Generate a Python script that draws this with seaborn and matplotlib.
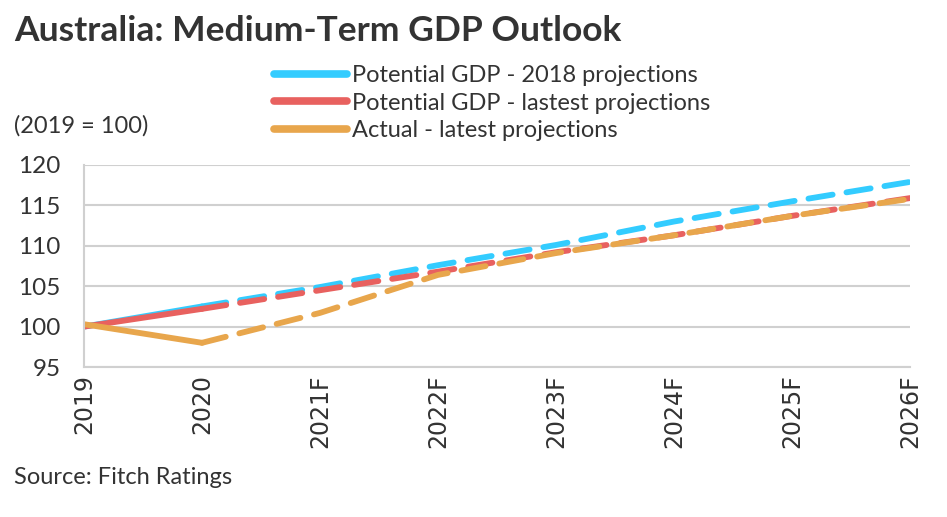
import numpy as np
import pandas as pd
import matplotlib
matplotlib.use("Agg")
import matplotlib.pyplot as plt
from matplotlib.lines import Line2D
import seaborn as sns

# Data (2019 = 100)
years = ["2019", "2020", "2021F", "2022F", "2023F", "2024F", "2025F", "2026F"]
potential_2018 = [100.0, 102.5, 104.9, 107.6, 110.1, 113.0, 115.5, 117.9]
potential_latest = [100.0, 102.2, 104.5, 106.8, 109.2, 111.3, 113.7, 115.9]
actual_latest = [100.3, 98.0, 101.7, 106.4, 109.1, 111.3, 113.7, 115.8]

labels = ["Potential GDP - 2018 projections",
          "Potential GDP - lastest projections",
          "Actual - latest projections"]
colors = ["#33CCFF", "#E8615F", "#E8A64C"]
series = [potential_2018, potential_latest, actual_latest]

sns.set_style("white")
plt.rcParams["font.family"] = ["Lato", "DejaVu Sans"]

fig = plt.figure(figsize=(9.47, 5.17), dpi=100)
ax = fig.add_axes([0.0887, 0.29, 0.8723, 0.391])

pos = np.arange(len(years))
for vals, col in zip(series, colors):
    df = pd.DataFrame({"x": pos, "y": vals})
    # actual history: solid, forecasts: dashed
    sns.lineplot(data=df.iloc[:2], x="x", y="y", ax=ax, color=col,
                 lw=4.2, solid_capstyle="round")
    sns.lineplot(data=df.iloc[1:], x="x", y="y", ax=ax, color=col,
                 lw=4.2, dashes=False, linestyle=(0, (4.2, 2.4)),
                 dash_capstyle="round")

ax.set_xlim(0, 7)
ax.set_ylim(95, 120)
ax.set_yticks(range(95, 121, 5))
ax.set_xticks(pos)
ax.set_xticklabels(years, rotation=90, family="DejaVu Sans", fontsize=17,
                   color="#333333")
ax.tick_params(axis="y", labelsize=17.5, labelcolor="#333333", length=0, pad=17)
ax.tick_params(axis="x", length=0, pad=5)
ax.set_xlabel("")
ax.set_ylabel("")
ax.grid(axis="y", color="#D0D0D0", lw=1.5)
for s in ["top", "right"]:
    ax.spines[s].set_visible(False)
ax.spines["left"].set_color("#D0D0D0")
ax.spines["left"].set_linewidth(1.5)
ax.spines["bottom"].set_color("#D0D0D0")
ax.spines["bottom"].set_linewidth(1.5)

handles = [Line2D([0], [0], color=c, lw=5.5, solid_capstyle="round") for c in colors]
fig.legend(handles, labels, loc="upper left", bbox_to_anchor=(0.289, 0.874),
           frameon=False, fontsize=17, handlelength=3.1, handletextpad=0.2,
           labelspacing=0.27, labelcolor="#333333", borderaxespad=0,
           borderpad=0)

fig.text(0.015, 0.94, "Australia: Medium-Term GDP Outlook", fontsize=25.5,
         fontweight="bold", color="#333333", va="center", ha="left")
fig.text(0.015, 0.756, "(2019 = 100)", fontsize=17, color="#333333",
         va="center", ha="left")
fig.text(0.015, 0.077, "Source: Fitch Ratings", fontsize=17, color="#333333",
         va="center", ha="left")

fig.savefig("out.png", dpi=100)
